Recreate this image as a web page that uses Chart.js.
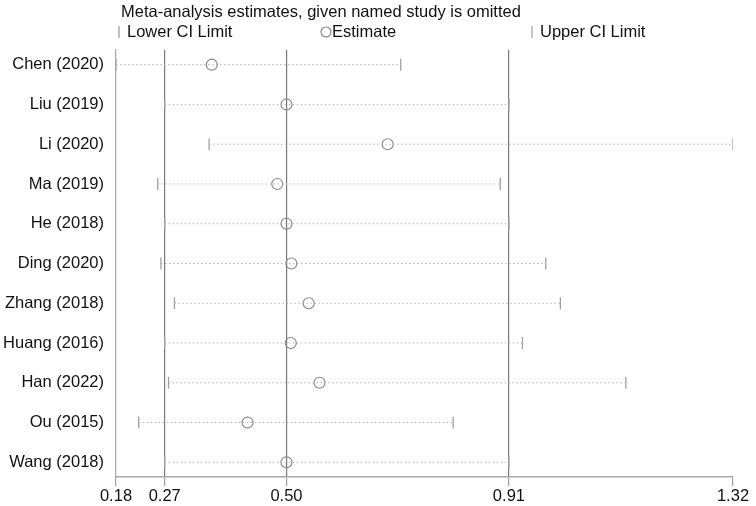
<!DOCTYPE html>
<html>
<head>
<meta charset="utf-8">
<script src="https://cdn.jsdelivr.net/npm/chart.js@4.4.1/dist/chart.umd.min.js"></script>
<style>
  html, body { margin: 0; padding: 0; background: #fff; }
  #wrap { width: 756px; height: 506px; position: relative; }
</style>
</head>
<body>
<div id="wrap"><canvas id="myChart"></canvas></div>
<script>
const studies = ['Chen (2020)', 'Liu (2019)', 'Li (2020)', 'Ma (2019)', 'He (2018)', 'Ding (2020)',
  'Zhang (2018)', 'Huang (2016)', 'Han (2022)', 'Ou (2015)', 'Wang (2018)'];
const lower = [0.180, 0.270, 0.352, 0.257, 0.270, 0.263, 0.288, 0.270, 0.277, 0.222, 0.270];
const estimate = [0.357, 0.495, 0.682, 0.478, 0.495, 0.504, 0.536, 0.503, 0.556, 0.423, 0.495];
const upper = [0.706, 0.906, 1.320, 0.890, 0.906, 0.974, 1.001, 0.931, 1.122, 0.803, 0.906];

// overall estimate and CI (vertical reference lines) plus the axis ends
const tickValues = [0.18, 0.27, 0.495, 0.906, 1.32];
const tickLabels = ['0.18', '0.27', '0.50', '0.91', '1.32'];
const refLines = [0.27, 0.495, 0.906];

const FONT = 'Arial, "Liberation Sans", sans-serif';
const rows = studies.map((s, i) => i + 1);

const datasets = [];
studies.forEach((s, i) => {
  datasets.push({
    data: [{x: lower[i], y: rows[i]}, {x: upper[i], y: rows[i]}],
    showLine: true,
    borderColor: '#b4b4b4',
    borderWidth: 1,
    borderDash: [1.5, 2.5],
    pointRadius: 0
  });
});
datasets.push({
  label: 'Lower CI Limit',
  data: lower.map((v, i) => ({x: v, y: rows[i]})),
  pointStyle: 'line',
  rotation: 90,
  pointRadius: 6,
  borderColor: '#a0a0a0',
  borderWidth: 1.3
});
datasets.push({
  label: 'Upper CI Limit',
  data: upper.map((v, i) => ({x: v, y: rows[i]})),
  pointStyle: 'line',
  rotation: 90,
  pointRadius: 6,
  borderColor: '#a0a0a0',
  borderWidth: 1.3
});
datasets.push({
  label: 'Estimate',
  data: estimate.map((v, i) => ({x: v, y: rows[i]})),
  pointStyle: 'circle',
  pointRadius: 5.5,
  backgroundColor: 'rgba(255,255,255,0)',
  borderColor: '#8a8a8a',
  borderWidth: 1.2
});

// title and legend, drawn above the plot
const header = {
  id: 'header',
  afterDraw(chart) {
    const c = chart.ctx;
    c.save();
    c.fillStyle = '#111';
    c.font = '16.5px ' + FONT;
    c.textBaseline = 'middle';
    c.textAlign = 'left';
    c.fillText('Meta-analysis estimates, given named study is omitted', 121, 12);

    c.strokeStyle = '#a0a0a0';
    c.lineWidth = 1.3;
    c.beginPath();
    c.moveTo(119, 26); c.lineTo(119, 38);
    c.moveTo(532, 26); c.lineTo(532, 38);
    c.stroke();
    c.fillText('Lower CI Limit', 127, 32);
    c.fillText('Upper CI Limit', 540, 32);

    c.strokeStyle = '#8a8a8a';
    c.lineWidth = 1.2;
    c.beginPath();
    c.arc(326, 32, 5, 0, Math.PI * 2);
    c.stroke();
    c.fillText('Estimate', 332, 32);
    c.restore();
  }
};

const ctx = document.getElementById('myChart').getContext('2d');
const myChart = new Chart(ctx, {
  type: 'scatter',
  data: {datasets: datasets},
  plugins: [header],
  options: {
    responsive: true,
    maintainAspectRatio: false,
    animation: false,
    layout: {padding: {top: 50, right: 23, left: 0, bottom: 0}},
    plugins: {
      legend: {display: false},
      title: {display: false},
      tooltip: {enabled: false}
    },
    scales: {
      x: {
        type: 'linear',
        min: 0.18,
        max: 1.32,
        afterBuildTicks: (scale) => { scale.ticks = tickValues.map(v => ({value: v})); },
        afterFit: (scale) => { scale.height = 29; },
        ticks: {
          autoSkip: false,
          maxRotation: 0,
          padding: 1,
          color: '#111',
          font: {family: FONT, size: 16.5},
          callback: (v, i) => tickLabels[i]
        },
        grid: {
          color: (c) => refLines.includes(c.tick && c.tick.value) ? '#7a7a7a' : 'rgba(0,0,0,0)',
          lineWidth: 1.2,
          tickColor: '#a0a0a0',
          tickLength: 9,
          drawTicks: true
        },
        border: {display: true, color: '#a8a8a8', width: 1.5}
      },
      y: {
        type: 'linear',
        reverse: true,
        min: 0.63,
        max: 11.37,
        afterBuildTicks: (scale) => { scale.ticks = rows.map(v => ({value: v})); },
        afterFit: (scale) => { scale.width = 116; },
        ticks: {
          autoSkip: false,
          padding: 12,
          color: '#111',
          font: {family: FONT, size: 16.5},
          callback: (v) => studies[v - 1]
        },
        grid: {drawOnChartArea: false, drawTicks: false},
        border: {display: true, color: '#a8a8a8', width: 1.2}
      }
    }
  }
});
</script>
</body>
</html>
